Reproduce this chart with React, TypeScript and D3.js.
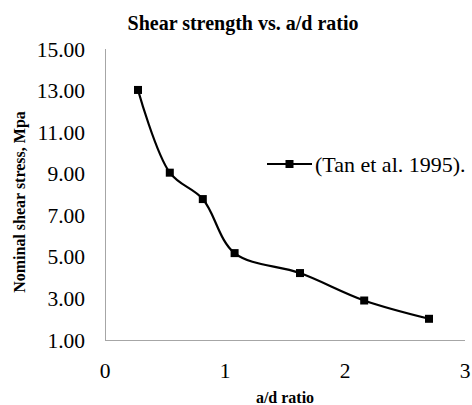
import { useRef, useEffect } from 'react';
import * as d3 from 'd3';

const adRatio = [0.275, 0.54, 0.815, 1.08, 1.625, 2.16, 2.7];
const shearStress = [13.03, 9.05, 7.78, 5.18, 4.22, 2.9, 2.02];
const yTicks = [1, 3, 5, 7, 9, 11, 13, 15];
const xTicks = [0, 1, 2, 3];
const seriesName = '(Tan et al. 1995).';

const ShearChart = () => {
    const svgRef = useRef<SVGSVGElement | null>(null);

    useEffect(() => {
        const svgElement = svgRef.current;
        if (!svgElement) return;

        const width = 472;
        const height = 405;
        const margin = { top: 49, right: 7, bottom: 65, left: 105 };
        const font = 'Liberation Serif';

        const svg = d3.select(svgElement);
        svg.selectAll('*').remove();

        const x = d3.scaleLinear()
            .domain([0, 3])
            .range([margin.left, width - margin.right]);

        const y = d3.scaleLinear()
            .domain([1, 15])
            .range([height - margin.bottom, margin.top]);

        // axes lines
        svg.append('line')
            .attr('x1', margin.left + 0.5).attr('x2', margin.left + 0.5)
            .attr('y1', y(15)).attr('y2', y(1))
            .attr('stroke', '#a6a6a6').attr('stroke-width', 1);

        svg.append('line')
            .attr('x1', margin.left).attr('x2', x(3))
            .attr('y1', y(1) + 0.5).attr('y2', y(1) + 0.5)
            .attr('stroke', '#a6a6a6').attr('stroke-width', 1);

        // tick labels
        svg.append('g')
            .selectAll('text')
            .data(yTicks)
            .join('text')
            .attr('x', 85)
            .attr('y', d => y(d))
            .attr('dy', '0.35em')
            .attr('text-anchor', 'end')
            .attr('font-family', font)
            .attr('font-size', 21.5)
            .attr('fill', '#000')
            .text(d => d.toFixed(2));

        svg.append('g')
            .selectAll('text')
            .data(xTicks)
            .join('text')
            .attr('x', d => x(d))
            .attr('y', 378)
            .attr('text-anchor', 'middle')
            .attr('font-family', font)
            .attr('font-size', 21.5)
            .attr('fill', '#000')
            .text(d => String(d));

        // titles
        svg.append('text')
            .attr('x', 243)
            .attr('y', 30)
            .attr('text-anchor', 'middle')
            .attr('font-family', font)
            .attr('font-weight', 'bold')
            .attr('font-size', 20)
            .text('Shear strength vs. a/d ratio');

        svg.append('text')
            .attr('x', 285)
            .attr('y', 403)
            .attr('text-anchor', 'middle')
            .attr('font-family', font)
            .attr('font-weight', 'bold')
            .attr('font-size', 16)
            .text('a/d ratio');

        svg.append('text')
            .attr('transform', 'translate(25, 202) rotate(-90)')
            .attr('text-anchor', 'middle')
            .attr('font-family', font)
            .attr('font-weight', 'bold')
            .attr('font-size', 16)
            .text('Nominal shear stress, Mpa');

        // series
        const data = adRatio.map((a, i) => ({ a, s: shearStress[i] }));

        const line = d3.line<{ a: number, s: number }>()
            .x(d => x(d.a))
            .y(d => y(d.s))
            .curve(d3.curveCatmullRom.alpha(0.5));

        svg.append('path')
            .datum(data)
            .attr('fill', 'none')
            .attr('stroke', '#000')
            .attr('stroke-width', 2.2)
            .attr('d', line);

        svg.append('g')
            .selectAll('rect')
            .data(data)
            .join('rect')
            .attr('x', d => x(d.a) - 4)
            .attr('y', d => y(d.s) - 4)
            .attr('width', 8)
            .attr('height', 8)
            .attr('fill', '#000');

        // legend
        const legend = svg.append('g').attr('transform', 'translate(267, 164)');
        legend.append('line')
            .attr('x1', 0).attr('x2', 45)
            .attr('y1', 0).attr('y2', 0)
            .attr('stroke', '#000').attr('stroke-width', 2.2);
        legend.append('rect')
            .attr('x', 18.5).attr('y', -4)
            .attr('width', 8).attr('height', 8)
            .attr('fill', '#000');
        legend.append('text')
            .attr('x', 48)
            .attr('y', 0)
            .attr('dy', '0.35em')
            .attr('font-family', font)
            .attr('font-size', 22)
            .text(seriesName);
    }, []);

    return (
        <div style={{ position: 'absolute', left: 0, top: 0, width: 472, height: 405, background: '#fff' }}>
            <svg ref={svgRef} width={472} height={405} style={{ display: 'block' }}></svg>
        </div>
    );
};

export default function App() {
    return <ShearChart />;
}
